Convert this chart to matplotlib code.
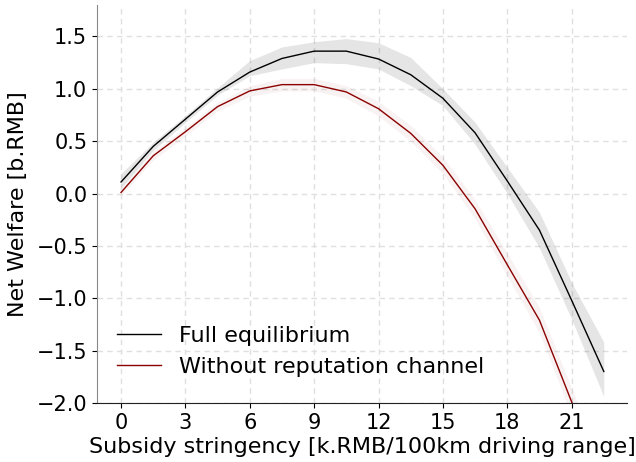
import numpy as np
import matplotlib
matplotlib.use("Agg")
import matplotlib.pyplot as plt

x = [0, 1.5, 3, 4.5, 6, 7.5, 9, 10.5, 12, 13.5, 15, 16.5, 18, 19.5, 21, 22.5]
full = [0.11, 0.45, 0.71, 0.97, 1.16, 1.29, 1.36, 1.36, 1.285, 1.135, 0.91, 0.58, 0.12, -0.35, -1.02, -1.70]
full_lo = [0.05, 0.41, 0.68, 0.94, 1.125, 1.19, 1.25, 1.24, 1.19, 1.03, 0.84, 0.47, 0.0, -0.52, -1.2, -1.94]
full_hi = [0.19, 0.49, 0.745, 1.01, 1.27, 1.40, 1.45, 1.48, 1.44, 1.30, 1.0, 0.68, 0.25, -0.18, -0.85, -1.42]
norep = [0.01, 0.36, 0.59, 0.83, 0.98, 1.04, 1.04, 0.97, 0.81, 0.575, 0.27, -0.146, -0.68, -1.21, -1.99, -2.8]
norep_lo = [-0.02, 0.32, 0.55, 0.79, 0.93, 0.98, 0.98, 0.91, 0.74, 0.50, 0.19, -0.24, -0.79, -1.33, -2.12, -2.95]
norep_hi = [0.04, 0.40, 0.63, 0.87, 1.03, 1.10, 1.10, 1.03, 0.88, 0.65, 0.35, -0.06, -0.57, -1.09, -1.86, -2.65]

fig = plt.figure(figsize=(6.36, 4.62), dpi=100)
ax = fig.add_axes([0.1525, 0.128, 0.834, 0.861])

ax.fill_between(x, full_lo, full_hi, color="black", alpha=0.1, linewidth=0)
ax.fill_between(x, norep_lo, norep_hi, color="darkred", alpha=0.05, linewidth=0)
ax.plot(x, full, color="black", lw=1, label="Full equilibrium")
ax.plot(x, norep, color="darkred", lw=1, label="Without reputation channel")

ax.set_xlim(-1.12, 23.6)
ax.set_ylim(-2.0, 1.8)
ax.set_xticks([0, 3, 6, 9, 12, 15, 18, 21])
ax.set_yticks([-2.0, -1.5, -1.0, -0.5, 0.0, 0.5, 1.0, 1.5])
ax.grid(True, linestyle=(0, (4, 3)), color="#e0e0e0", lw=1)
ax.set_axisbelow(True)
for s in ["top", "right"]:
    ax.spines[s].set_visible(False)
ax.spines["left"].set_color("#888888")
ax.spines["bottom"].set_color("#222222")
ax.tick_params(labelsize=15)
ax.set_xlabel("Subsidy stringency [k.RMB/100km driving range]", fontsize=16, labelpad=3)
ax.set_ylabel("Net Welfare [b.RMB]", fontsize=16, labelpad=6)
ax.legend(loc="lower left", frameon=False, fontsize=16, bbox_to_anchor=(0.0, 0.015))

fig.savefig("out.png", dpi=100)
